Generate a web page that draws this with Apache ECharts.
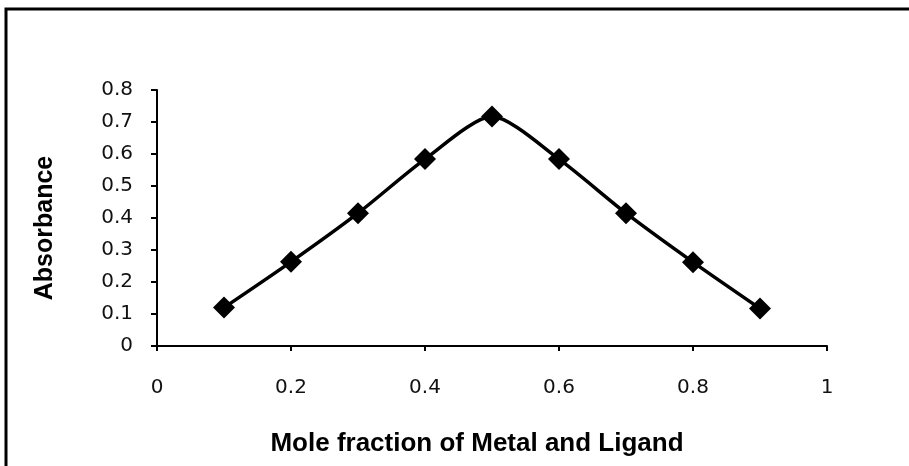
<!DOCTYPE html>
<html>
<head>
    <meta charset="utf-8">
    <title>Absorbance vs mole fraction</title>
    <script src="https://cdn.jsdelivr.net/npm/echarts@6/dist/echarts.min.js"></script>
</head>
<body style="margin:0;background:#fff">
<div id="main" style="width:909px;height:466px"></div>
<script type="text/javascript">
// mole fraction (x) and absorbance readings
var moleFraction = [0.1, 0.2, 0.3, 0.4, 0.5, 0.6, 0.7, 0.8, 0.9];
var absorbance = [0.12, 0.263, 0.415, 0.584, 0.717, 0.584, 0.415, 0.262, 0.117];
var xTitle = 'Mole fraction of Metal and Ligand';
var yTitle = 'Absorbance';

var chart = echarts.init(document.getElementById('main'));
var titleFont = '"Liberation Sans", Arial, sans-serif';
var tickFont = '"DejaVu Sans", sans-serif';

var option = {
    animation: false,
    backgroundColor: '#fff',
    graphic: [{
        type: 'rect',
        shape: { x: 6, y: 9, width: 1000, height: 1000 },
        style: { fill: 'none', stroke: '#000', lineWidth: 3 }
    }],
    grid: { left: 157, top: 90, right: 82, bottom: 120 },
    xAxis: {
        type: 'value',
        min: 0, max: 1, interval: 0.2,
        name: xTitle,
        nameLocation: 'middle',
        nameGap: 85,
        nameTextStyle: { fontFamily: titleFont, fontSize: 26, fontWeight: 'bold', color: '#000', padding: [0, 30, 0, 0] },
        axisLine: { lineStyle: { color: '#000', width: 2 } },
        axisTick: { length: 5, lineStyle: { color: '#000', width: 2 } },
        axisLabel: { fontFamily: tickFont, fontSize: 20, color: '#111', margin: 32 },
        splitLine: { show: false }
    },
    yAxis: {
        type: 'value',
        min: 0, max: 0.8, interval: 0.1,
        name: yTitle,
        nameLocation: 'middle',
        nameGap: 99,
        nameTextStyle: { fontFamily: titleFont, fontSize: 25, fontWeight: 'bold', color: '#000', padding: [0, 20, 0, 0] },
        axisLine: { show: true, lineStyle: { color: '#000', width: 2 } },
        axisTick: { show: true, length: 6, lineStyle: { color: '#000', width: 2 } },
        axisLabel: { fontFamily: tickFont, fontSize: 20, color: '#111', margin: 24 },
        splitLine: { show: false }
    },
    series: [{
        type: 'line',
        data: moleFraction.map(function (x, i) { return [x, absorbance[i]]; }),
        smooth: 0.25,
        symbol: 'diamond',
        symbolSize: 22,
        itemStyle: { color: '#000' },
        lineStyle: { color: '#000', width: 3.5 }
    }]
};
chart.setOption(option);
</script>
</body>
</html>
